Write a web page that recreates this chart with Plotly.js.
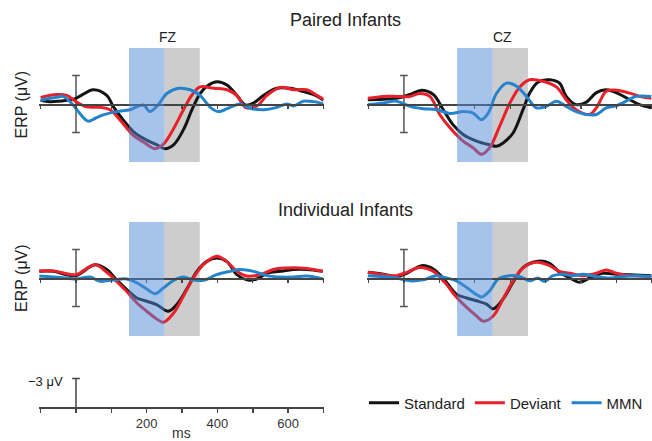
<!DOCTYPE html>
<html><head><meta charset="utf-8">
<script src="https://cdn.plot.ly/plotly-3.0.1.min.js"></script>
<style>html,body{margin:0;padding:0;background:#fff}#chart{width:652px;height:441px}</style>
</head><body><div id="chart"></div>
<script>
const seriesNames = ['Standard', 'Deviant', 'MMN'];
const seriesColors = ['#141414', '#e8202a', '#2384cc'];
const electrodeLabels = ['FZ', 'CZ'];
const rowTitles = ['Paired Infants', 'Individual Infants'];
const scaleTickVals = [-100, 0, 100, 200, 300, 400, 500, 600, 700];
const scaleTickText = ['', '', '', '200', '', '400', '', '600', ''];
const mmnWindow = [150, 250];
const lateWindow = [250, 350];
const scaleBarUV = 3;

// Paired infants, FZ (ms, µV; negative up)
const pFzStdT = [-100,-74,-26,0,49,87,106,134,162,200,229,252,276,304,328,351,375,399,427,455,479,502,530,568,606,644,677,700];
const pFzStdV = [-0.4,-0.25,-0.4,-0.6,-1.5,-0.9,0.3,1.7,2.9,3.8,4.3,4.7,4.3,2.7,0.6,-1.1,-2.0,-2.35,-2.0,-0.9,0.1,-0.1,-0.9,-1.65,-1.65,-1.3,-0.9,-0.4];
const pFzDevT = [-100,-55,-26,0,30,68,96,125,162,191,224,248,276,304,328,351,390,427,455,479,512,540,578,616,653,682,700];
const pFzDevV = [-0.7,-1.0,-0.9,-0.25,0.3,0.35,0.6,1.7,3.3,4.0,4.7,4.2,2.6,0.6,-0.95,-1.8,-1.65,-1.5,-0.9,0.35,0.2,-0.9,-1.75,-1.5,-1.5,-0.9,-0.5];
const pFzMmnT = [-100,-55,-37,-8,11,34,55,77,115,153,190,209,232,257,290,323,351,380,403,436,465,493,530,568,596,616,644,672,700];
const pFzMmnV = [-0.4,-0.7,-0.8,0.1,1.0,1.8,1.5,1.15,0.8,0.6,0.1,0.8,0.1,-1.1,-1.65,-1.5,-0.9,0.35,0.8,0.35,0,0.45,0.6,0.35,0,0.2,-0.3,-0.25,0];

// Paired infants, CZ
const pCzStdT = [-102,-58,-21,17,50,83,111,139,167,205,242,261,280,308,336,355,378,411,439,458,486,515,543,571,608,637,665,698];
const pCzStdV = [-0.45,-0.5,-0.6,-1.0,-1.45,-1.0,0.6,2.2,3.2,3.9,4.3,4.45,4.1,3.05,0.6,-1.15,-2.3,-2.55,-2.2,-0.8,0.07,-0.2,-1.2,-1.5,-1.05,-0.45,0.07,0.4];
const pCzDevT = [-102,-58,-21,17,45,73,101,130,167,195,219,242,270,299,327,355,392,430,458,486,524,543,571,599,637,665,698];
const pCzDevV = [-0.6,-0.8,-0.8,-0.8,-1.1,-0.8,1.1,2.5,3.9,4.6,5.3,4.6,2.35,-0.1,-1.8,-2.55,-2.4,-1.8,-0.45,0.6,1.1,0.4,-1.35,-1.45,-1.15,-0.8,-0.6];
const pCzMmnT = [-102,-58,-21,17,54,92,130,167,195,219,238,261,289,317,346,374,402,430,458,486,515,543,571,599,627,655,698];
const pCzMmnV = [0.07,-0.1,-0.3,0.25,0.5,0.6,1.0,0.8,0.95,1.65,0.95,-1.1,-2.2,-1.9,-0.8,0.4,0.25,-0.3,0.25,0.8,1.1,1.1,0.4,0.2,-0.3,-0.8,-0.8];

// Individual infants, FZ
const iFzStdT = [-104,-64,-26,0,54,87,115,143,172,200,228,261,285,313,342,370,398,426,455,483,511,540,577,615,653,698];
const iFzStdV = [-0.7,-0.7,-0.35,-0.25,-1.4,-0.9,0.2,1.2,2.1,2.45,2.8,3.5,2.8,1.2,-0.7,-1.75,-2.1,-1.75,-0.35,0.2,0.1,-0.5,-0.7,-0.9,-0.9,-0.7];
const iFzDevT = [-104,-64,-26,0,54,87,115,143,172,200,224,247,276,304,332,360,398,426,455,483,521,558,596,634,672,698];
const iFzDevV = [-0.75,-0.75,-0.45,-0.35,-1.4,-0.6,0.35,1.4,2.6,3.5,4.2,4.65,3.7,1.9,0,-1.4,-2.3,-1.75,-0.7,-0.2,-0.35,-0.9,-1.05,-1.05,-0.9,-0.7];
const iFzMmnT = [-104,-64,-26,0,40,68,106,143,172,200,224,247,276,304,332,360,398,436,464,502,540,577,615,653,698];
const iFzMmnV = [-0.2,-0.1,0,0.1,-0.1,0.35,0.2,0.1,0.5,1.15,1.65,1.05,0.25,-0.1,0.2,0.25,-0.35,-0.7,-0.9,-0.7,-0.25,-0.1,-0.1,-0.2,0.1];

// Individual infants, CZ
const iCzStdT = [-102,-58,-21,8,50,83,115,148,177,205,233,252,280,308,336,374,411,439,468,496,524,562,599,637,698];
const iCzStdV = [-0.6,-0.4,-0.15,-0.5,-1.3,-0.95,0.2,1.7,2.1,2.4,2.75,3.25,2.2,0.45,-1.1,-1.75,-1.55,-0.6,0,0.45,0,-0.5,-0.4,-0.35,-0.25];
const iCzDevT = [-102,-58,-21,8,45,83,115,148,177,205,224,252,280,308,336,374,411,439,468,505,543,571,599,637,698];
const iCzDevV = [-0.6,-0.35,-0.25,-0.6,-1.1,-0.7,0.45,2.0,3.1,4.0,4.55,4.0,2.2,0.3,-1.05,-1.65,-1.3,-0.7,-0.5,-0.25,-0.5,-0.85,-0.5,-0.25,-0.15];
const iCzMmnT = [-102,-58,-21,17,54,92,120,148,177,205,219,242,266,299,327,355,378,397,421,449,477,505,543,581,618,655,698];
const iCzMmnV = [-0.25,-0.15,0,0.3,0.2,-0.25,0,0.3,1.0,1.75,2.0,1.35,0.1,-0.25,-0.15,0.3,0,0.35,-0.25,-0.4,-0.25,-0.4,-0.15,0,-0.15,-0.25,-0.15];

const panels = [
  {ax: '', series: [[pFzStdT, pFzStdV], [pFzDevT, pFzDevV], [pFzMmnT, pFzMmnV]]},
  {ax: '2', series: [[pCzStdT, pCzStdV], [pCzDevT, pCzDevV], [pCzMmnT, pCzMmnV]]},
  {ax: '3', series: [[iFzStdT, iFzStdV], [iFzDevT, iFzDevV], [iFzMmnT, iFzMmnV]]},
  {ax: '4', series: [[iCzStdT, iCzStdV], [iCzDevT, iCzDevV], [iCzMmnT, iCzMmnV]]}
];

const W = 652, H = 441;
const FONT = 'Liberation Sans, Arial, sans-serif';
const px2x = p => p / W;
const px2y = p => 1 - p / H;

const traces = [];
const shapes = [];
panels.forEach((p, pi) => {
  p.series.forEach((s, si) => {
    traces.push({
      x: s[0], y: s[1], xaxis: 'x' + p.ax, yaxis: 'y' + p.ax,
      type: 'scatter', mode: 'lines', name: seriesNames[si],
      line: {color: seriesColors[si], width: 3, shape: 'spline', smoothing: 1},
      showlegend: pi === 0, legendrank: si + 1, hoverinfo: 'skip'
    });
  });
  const xr = 'x' + p.ax, yr = 'y' + p.ax;
  shapes.push({type: 'rect', xref: xr, yref: yr, x0: lateWindow[0], x1: lateWindow[1], y0: -5.9, y1: 6.1,
    fillcolor: '#cdcdcd', line: {width: 0}, layer: 'below'});
  shapes.push({type: 'line', xref: xr, yref: yr, x0: 0, x1: 0, y0: -scaleBarUV, y1: scaleBarUV,
    line: {color: '#555', width: 1.5}, layer: 'below'});
  [-scaleBarUV, scaleBarUV].forEach(v => shapes.push({type: 'line', xref: xr, yref: yr, x0: -11, x1: 11, y0: v, y1: v,
    line: {color: '#555', width: 1.5}, layer: 'below'}));
  shapes.push({type: 'rect', xref: xr, yref: yr, x0: mmnWindow[0], x1: mmnWindow[1], y0: -5.9, y1: 6.1,
    fillcolor: '#4b87d7', opacity: 0.5, line: {width: 0}, layer: 'above'});
});
traces.push({x: [], y: [], xaxis: 'x5', yaxis: 'y5', type: 'scatter', mode: 'lines', showlegend: false, hoverinfo: 'skip'});

// bottom scale bar
shapes.push({type: 'line', xref: 'x5', yref: 'y5', x0: 0, x1: 0, y0: 0, y1: -scaleBarUV, line: {color: '#444', width: 1.5}});
shapes.push({type: 'line', xref: 'x5', yref: 'y5', x0: -11, x1: 11, y0: -scaleBarUV, y1: -scaleBarUV, line: {color: '#444', width: 1.5}});

const leftDom = [px2x(39.2), px2x(323.5)];
const rightDom = [px2x(367.4), 1];
const topDom = [px2y(165.75), px2y(42.25)];
const botDom = [px2y(339.75), px2y(216.25)];
const scaleDom = [px2y(407), px2y(375.65)];
const yRange = [6.5, -6.5];

function erpX(dom, range, yDom, ticks, over, line) {
  const a = {domain: dom, range: range, anchor: 'free', position: (yDom[0] + yDom[1]) / 2,
    showline: line, linecolor: '#444', linewidth: 1.5, ticks: ticks, ticklen: 3, tickwidth: 1.3, tickcolor: '#444',
    tickmode: 'array', tickvals: scaleTickVals, showticklabels: false, showgrid: false, zeroline: false,
    automargin: false, fixedrange: true};
  if (over) a.overlaying = over;
  return a;
}
function erpY(dom) {
  return {domain: dom, range: yRange, visible: false, showgrid: false, zeroline: false, fixedrange: true};
}

const annFont = (s) => ({family: FONT, size: s, color: '#222'});
const annotations = [
  {text: rowTitles[0], xref: 'paper', yref: 'paper', x: px2x(345), y: px2y(20), showarrow: false, font: annFont(18), xanchor: 'center', yanchor: 'middle'},
  {text: rowTitles[1], xref: 'paper', yref: 'paper', x: px2x(345), y: px2y(210), showarrow: false, font: annFont(18), xanchor: 'center', yanchor: 'middle'},
  {text: electrodeLabels[0], xref: 'x', yref: 'paper', x: 259, y: px2y(37), showarrow: false, font: annFont(14), xanchor: 'center', yanchor: 'middle'},
  {text: electrodeLabels[1], xref: 'x2', yref: 'paper', x: 279, y: px2y(37), showarrow: false, font: annFont(14), xanchor: 'center', yanchor: 'middle'},
  {text: 'ERP (μV)', xref: 'paper', yref: 'paper', x: px2x(21), y: px2y(104.5), textangle: -90, showarrow: false, font: annFont(16), xanchor: 'center', yanchor: 'middle'},
  {text: 'ERP (μV)', xref: 'paper', yref: 'paper', x: px2x(21), y: px2y(278), textangle: -90, showarrow: false, font: annFont(16), xanchor: 'center', yanchor: 'middle'},
  {text: '−3 μV', xref: 'x5', yref: 'y5', x: 0, y: -scaleBarUV, xshift: -11, yshift: -3, showarrow: false, font: annFont(13), xanchor: 'right', yanchor: 'middle'}
];

const layout = {
  width: W, height: H, margin: {l: 0, r: 0, t: 0, b: 0, autoexpand: false},
  paper_bgcolor: '#fff', plot_bgcolor: 'rgba(0,0,0,0)',
  font: {family: FONT, color: '#222'},
  xaxis: erpX(leftDom, [-104, 700], topDom, 'outside', null, true), yaxis: erpY(topDom),
  xaxis2: erpX(rightDom, [-103, 700], topDom, 'outside', null, true), yaxis2: erpY(topDom),
  xaxis3: erpX(leftDom, [-104, 700], botDom, 'outside', null, true), yaxis3: erpY(botDom),
  xaxis4: erpX(rightDom, [-103, 700], botDom, 'outside', null, true), yaxis4: erpY(botDom),
  xaxis6: erpX(leftDom, [-104, 700], topDom, 'inside', 'x', false),
  xaxis7: erpX(rightDom, [-103, 700], topDom, 'inside', 'x2', false),
  xaxis8: erpX(leftDom, [-104, 700], botDom, 'inside', 'x3', false),
  xaxis9: erpX(rightDom, [-103, 700], botDom, 'inside', 'x4', false),
  xaxis5: {domain: leftDom, range: [-104, 700], anchor: 'y5', showline: true, linecolor: '#444', linewidth: 1.5,
    ticks: 'outside', ticklen: 4, tickwidth: 1.5, tickcolor: '#444', tickmode: 'array', tickvals: scaleTickVals, ticktext: scaleTickText,
    tickfont: {family: FONT, size: 13, color: '#333'}, showgrid: false, zeroline: false, automargin: false, fixedrange: true,
    title: {text: 'ms', font: {family: FONT, size: 14, color: '#333'}, standoff: 0}},
  xaxis10: {domain: leftDom, range: [-104, 700], anchor: 'free', position: scaleDom[0], overlaying: 'x5', showline: false,
    ticks: 'inside', ticklen: 4, tickwidth: 1.5, tickcolor: '#444', tickmode: 'array', tickvals: scaleTickVals,
    showticklabels: false, showgrid: false, zeroline: false, automargin: false, fixedrange: true},
  yaxis5: {domain: scaleDom, range: [0, -3.3], visible: false, showgrid: false, zeroline: false, fixedrange: true},
  shapes: shapes, annotations: annotations,
  showlegend: true,
  legend: {orientation: 'h', x: px2x(364), xanchor: 'left', y: px2y(403), yanchor: 'middle',
    font: {family: FONT, size: 15, color: '#222'}, bgcolor: 'rgba(0,0,0,0)', traceorder: 'normal', itemwidth: 30}
};

Plotly.newPlot('chart', traces, layout, {staticPlot: true, displayModeBar: false});
</script></body></html>
